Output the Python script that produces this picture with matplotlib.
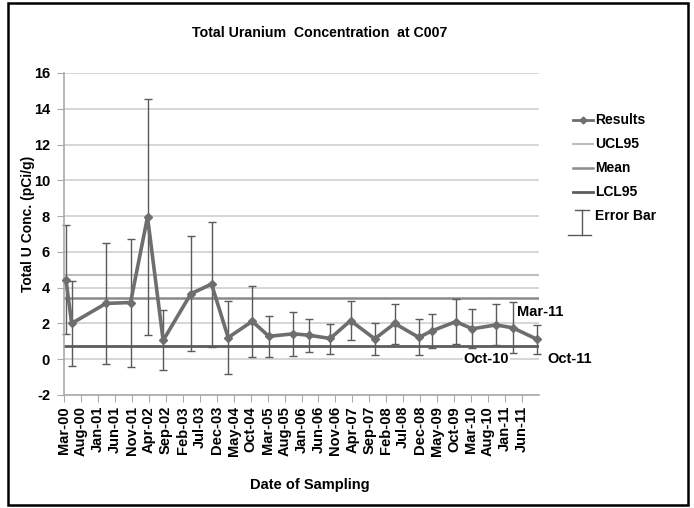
import matplotlib
matplotlib.use("Agg")
import matplotlib.pyplot as plt
from matplotlib.lines import Line2D
from matplotlib.legend_handler import HandlerBase
from matplotlib.patches import Rectangle
import pandas as pd

plt.rcParams['font.family'] = ['Liberation Sans', 'DejaVu Sans']
plt.rcParams['font.weight'] = 'bold'
plt.rcParams['axes.unicode_minus'] = False

# ---- data ----
sample_dates = ["2000-03-19", "2000-05-09", "2001-03-13", "2001-10-20", "2002-03-20",
                "2002-08-08", "2003-04-13", "2003-10-16", "2004-03-13", "2004-10-16",
                "2005-03-13", "2005-10-18", "2006-03-10", "2006-09-15", "2007-03-15",
                "2007-10-19", "2008-04-15", "2008-11-18", "2009-03-13", "2009-10-16",
                "2010-03-12", "2010-10-12", "2011-03-12", "2011-10-12"]
results = [4.45, 2.0, 3.12, 3.17, 7.95, 1.05, 3.66, 4.2, 1.21, 2.12, 1.28, 1.42,
           1.34, 1.16, 2.16, 1.14, 2.0, 1.22, 1.58, 2.1, 1.7, 1.92, 1.75, 1.12]
err_upper = [7.5, 4.38, 6.48, 6.7, 14.52, 2.76, 6.87, 7.65, 3.28, 4.07, 2.43, 2.63,
             2.24, 1.98, 3.23, 2.05, 3.1, 2.24, 2.52, 3.35, 2.8, 3.08, 3.19, 1.92]
err_lower = [1.4, -0.38, -0.24, -0.46, 1.38, -0.62, 0.45, 0.69, -0.84, 0.13, 0.13, 0.18,
             0.43, 0.3, 1.08, 0.24, 0.85, 0.22, 0.64, 0.85, 0.62, 0.78, 0.33, 0.3]
ucl95 = 4.69
mean = 3.43
lcl95 = 0.73
tick_labels = ["Mar-00", "Aug-00", "Jan-01", "Jun-01", "Nov-01", "Apr-02", "Sep-02",
               "Feb-03", "Jul-03", "Dec-03", "May-04", "Oct-04", "Mar-05", "Aug-05",
               "Jan-06", "Jun-06", "Nov-06", "Apr-07", "Sep-07", "Feb-08", "Jul-08",
               "Dec-08", "May-09", "Oct-09", "Mar-10", "Aug-10", "Jan-11", "Jun-11"]
axis_start = "2000-03-01"
axis_end = "2011-11-01"

start = pd.Timestamp(axis_start)

def month_pos(d):
    t = pd.Timestamp(d)
    return (t.year - start.year) * 12 + (t.month - start.month) + (t.day - 1) / t.days_in_month

x = [month_pos(d) for d in sample_dates]
tick_x = [month_pos(pd.to_datetime(t, format="%b-%y")) for t in tick_labels]
x_end = month_pos(axis_end)

yerr_lo = [r - l for r, l in zip(results, err_lower)]
yerr_hi = [u - r for r, u in zip(results, err_upper)]

fig = plt.figure(figsize=(6.94, 5.08), dpi=100)
ax = fig.add_axes([64/694, 1-395/508, (539-64)/694, (395-73)/508])

c_res = '#6e6e6e'
c_ucl = '#bdbdbd'
c_mean = '#8a8a8a'
c_lcl = '#5c5c5c'
c_grid = '#cfcfcf'

ax.set_xlim(0, x_end)
ax.set_ylim(-2, 16)
ax.set_yticks(range(-2, 17, 2))
ax.grid(axis='y', color=c_grid, lw=1.2, zorder=0)
ax.set_axisbelow(True)

ax.axhline(ucl95, color=c_ucl, lw=1.5, zorder=1)
ax.axhline(mean, color=c_mean, lw=1.8, zorder=1)
ax.axhline(lcl95, color=c_lcl, lw=2.0, zorder=1)

ax.errorbar(x, results, yerr=[yerr_lo, yerr_hi], fmt='none', ecolor='#5a5a5a',
            elinewidth=1.0, capsize=3, capthick=1.0, zorder=2, clip_on=False)
ax.plot(x, results, color=c_res, lw=2.6, marker='D', ms=4.5, mfc=c_res, mec=c_res,
        zorder=3, clip_on=False)

for s in ['top', 'right']:
    ax.spines[s].set_visible(False)
for s in ['left', 'bottom']:
    ax.spines[s].set_color('#aaaaaa')
    ax.spines[s].set_linewidth(1.2)

ax.set_xticks(tick_x)
ax.set_xticklabels(tick_labels, rotation=90, fontsize=10.5, fontweight='bold')
ax.tick_params(axis='x', length=5, color='#aaaaaa', pad=3)
ax.tick_params(axis='y', length=5, color='#aaaaaa', labelsize=10.5, pad=5)
for lab in ax.get_yticklabels():
    lab.set_fontweight('bold')

# annotations
ax.text(month_pos("2011-03-01") + 1.5, 2.65, "Mar-11", fontsize=10.5, fontweight='bold',
        ha='left', va='center', zorder=4)
ax.text(month_pos("2010-10-01") + 4.2, 0.0, "Oct-10", fontsize=10.5, fontweight='bold',
        ha='right', va='center', zorder=4,
        bbox=dict(facecolor='white', edgecolor='none', pad=0.5))
ax.text(month_pos("2011-10-01") + 3.5, 0.0, "Oct-11", fontsize=10.5, fontweight='bold',
        ha='left', va='center', clip_on=False, zorder=4)

fig.text(320/694, 1-33/508, "Total Uranium  Concentration  at C007", fontsize=10.2,
         fontweight='bold', ha='center', va='center')
fig.text(28/694, 1-224/508, "Total U Conc. (pCi/g)", fontsize=10, fontweight='bold',
         rotation=90, ha='center', va='center')
fig.text(310/694, 1-485/508, "Date of Sampling", fontsize=10.5, fontweight='bold',
         ha='center', va='center')

# legend
class ErrorBarHandler(HandlerBase):
    def create_artists(self, legend, orig_handle, xdescent, ydescent, width, height,
                       fontsize, trans):
        xc = width * 0.45
        mid = height * 0.5
        top = mid + 0.55 * height
        bot = mid - 2.0 * height
        arts = [
            Line2D([xc, xc], [bot, top], color='#5a5a5a', lw=1.0, transform=trans),
            Line2D([xc - 0.35 * width, xc + 0.35 * width], [top, top], color='#5a5a5a', lw=1.0, transform=trans),
            Line2D([-0.2 * width, xc + 0.45 * width], [bot, bot], color='#5a5a5a', lw=1.0, transform=trans),
        ]
        return arts

class EBDummy:
    pass

handles = [
    Line2D([], [], color=c_res, lw=2.0, marker='D', ms=3.5),
    Line2D([], [], color=c_ucl, lw=1.5),
    Line2D([], [], color=c_mean, lw=1.8),
    Line2D([], [], color=c_lcl, lw=2.0),
    EBDummy(),
]
labels = ["Results", "UCL95", "Mean", "LCL95", "Error Bar"]
leg = fig.legend(handles, labels, loc='upper left', bbox_to_anchor=(560/694, 1-101/508),
                 frameon=False, fontsize=10, handlelength=1.5, handletextpad=0.1,
                 labelspacing=0.72, handler_map={EBDummy: ErrorBarHandler()})
for t in leg.get_texts():
    t.set_fontweight('bold')

# outer border
fig.patches.append(Rectangle((8/694, 3/508), (688-8)/694, (505-3)/508, transform=fig.transFigure,
                             fill=False, edgecolor='black', lw=1.8))

fig.savefig("out.png", dpi=100)
